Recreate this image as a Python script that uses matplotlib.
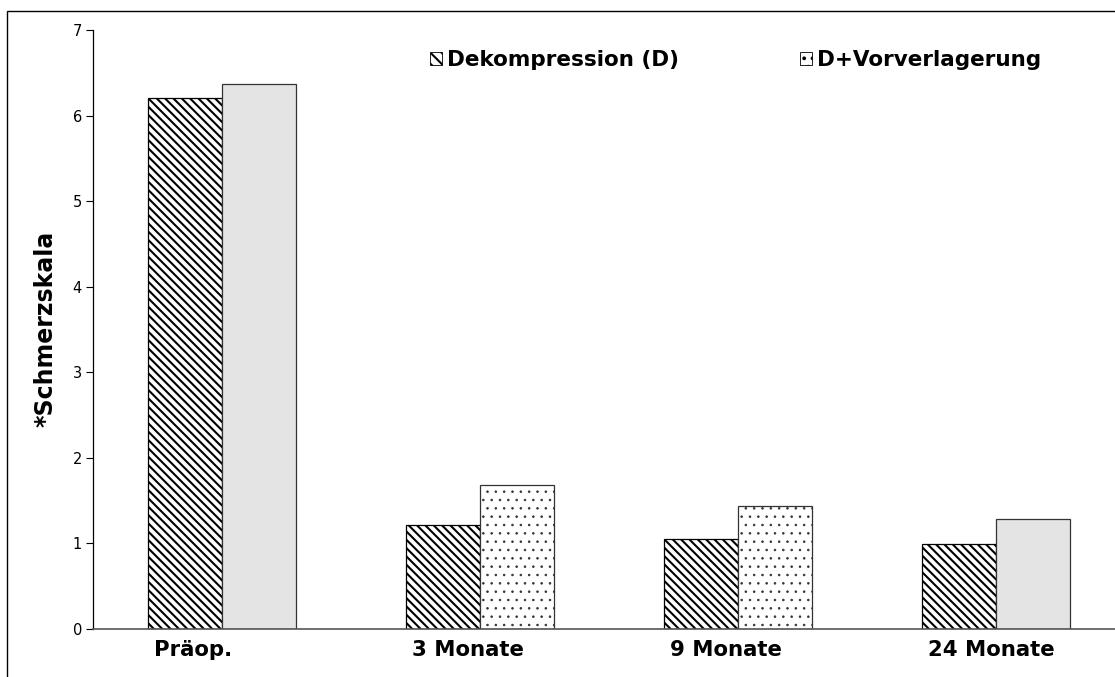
import matplotlib
matplotlib.use("Agg")
import matplotlib.pyplot as plt
from matplotlib.patches import Patch, Rectangle
import numpy as np

# data
categories = ["Präop.", "3 Monate", "9 Monate", "24 Monate"]
dekompression = [6.21, 1.21, 1.05, 0.99]
vorverlagerung = [6.37, 1.68, 1.44, 1.29]
series_names = ["Dekompression (D)", "D+Vorverlagerung"]
y_label = "*Schmerzskala"
y_ticks = [0, 1, 2, 3, 4, 5, 6, 7]

# the second series is plain grey in two groups, dotted in the other two
vv_hatch = ["", "..", "..", ""]
vv_face = ["#e4e4e4", "white", "white", "#e4e4e4"]
d_hatch = "\\" * 4

plt.rcParams['hatch.color'] = 'black'
plt.rcParams['hatch.linewidth'] = 1.5

W, H = 1115, 677
fig = plt.figure(figsize=(W / 100, H / 100), dpi=100)

# outer chart frame (cut off at right and bottom in the reference)
fig.add_artist(Rectangle((7 / W, -0.2), 1.5, 1.2 - 11 / H, transform=fig.transFigure,
                         fill=False, edgecolor='black', linewidth=1.0))

# axis area runs past the right edge, like the original
ax = fig.add_axes([93 / W, 48 / H, 1032 / W, 599 / H])

x = np.arange(len(categories))
bw = 0.287
ax.bar(x - bw / 2, dekompression, bw, facecolor='white', edgecolor='black',
       hatch=d_hatch, linewidth=0.9)
for i in range(len(categories)):
    b = ax.bar(x[i] + bw / 2, vorverlagerung[i], bw, facecolor=vv_face[i],
               edgecolor='#333333', hatch=vv_hatch[i], linewidth=0.9)
    for p in b:
        if hasattr(p, 'set_hatch_linewidth'):
            p.set_hatch_linewidth(0.6)

ax.set_xlim(-0.5, 3.5)
ax.set_ylim(0, 7)
ax.set_yticks(y_ticks)
ax.tick_params(axis='y', direction='out', length=5, width=0.8, pad=3, labelsize=10.5)
ax.set_xticks([])
ax.spines['top'].set_visible(False)
ax.spines['right'].set_visible(False)
ax.spines['left'].set_linewidth(0.9)
ax.spines['bottom'].set_color('#555555')
ax.spines['bottom'].set_linewidth(1.2)

for i, c in enumerate(categories):
    ax.text(x[i] - 0.262, -0.245, c, ha='left', va='center', fontsize=15.3,
            fontweight='bold', clip_on=False)

fig.text(45 / W, 1 - 329 / H, y_label, rotation=90, ha='center', va='center',
         fontsize=17, fontweight='bold')

handles = [Patch(facecolor='white', edgecolor='black', hatch='\\\\\\', linewidth=0.6),
           Patch(facecolor='white', edgecolor='black', hatch='..', linewidth=0.6)]
fig.legend(handles, series_names, loc='center left', bbox_to_anchor=(430 / W, 1 - 60 / H),
           ncol=2, frameon=False, borderpad=0, borderaxespad=0,
           handlelength=0.55, handleheight=0.55, handletextpad=0.25,
           columnspacing=5.6, prop={'size': 15.5, 'weight': 'bold'})

fig.savefig("out.png", dpi=100)
